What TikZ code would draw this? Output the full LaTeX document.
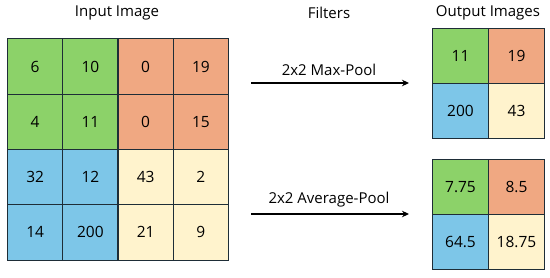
\documentclass[tikz,border=0pt]{standalone}
\usepackage{fontspec}
\setmainfont{Open Sans}
\usetikzlibrary{arrows.meta}
\definecolor{cgreen}{RGB}{140,210,105}
\definecolor{corange}{RGB}{240,168,130}
\definecolor{cblue}{RGB}{125,198,232}
\definecolor{cyellow}{RGB}{255,243,205}
\definecolor{cedge}{RGB}{30,45,55}
\begin{document}
\begin{tikzpicture}[x=1pt,y=-1pt,
  cell/.style={draw=cedge,line width=1.1pt,minimum width=55.25pt,minimum height=55.5pt,inner sep=0pt,font=\fontsize{15.5}{17}\selectfont,anchor=center},
  ocell/.style={draw=cedge,line width=1.1pt,minimum width=56pt,minimum height=55pt,inner sep=0pt,font=\fontsize{15.5}{17}\selectfont,anchor=center},
  title/.style={font=\fontsize{15}{17}\selectfont,anchor=center},
  lbl/.style={font=\fontsize{15}{17}\selectfont,anchor=center},
  arr/.style={line width=2pt,-{Stealth[length=7pt,width=6.5pt]}}]
\useasboundingbox (0,0) rectangle (550,277);
\node[title] (t1) at (117,13) {Input Image};
\node[title] (t2) at (329,13) {Filters};
\node[title] (t3) at (488,13) {Output Images};
% input grid
\def\cw{55.25}
\foreach \r/\c/\v/\col in {
 0/0/6/cgreen,0/1/10/cgreen,0/2/0/corange,0/3/19/corange,
 1/0/4/cgreen,1/1/11/cgreen,1/2/0/corange,1/3/15/corange,
 2/0/32/cblue,2/1/12/cblue,2/2/43/cyellow,2/3/2/cyellow,
 3/0/14/cblue,3/1/200/cblue,3/2/21/cyellow,3/3/9/cyellow}{
  \node[cell,fill=\col] (i\r\c) at ({7.5+\cw*(\c+0.5)},{39+55.25*(\r+0.5)}) {\v};
}
% output max
\foreach \r/\c/\v/\col in {0/0/11/cgreen,0/1/19/corange,1/0/200/cblue,1/1/43/cyellow}{
  \node[ocell,fill=\col] (m\r\c) at ({432.5+56*(\c+0.5)},{28.5+55*(\r+0.5)}) {\v};
}
\foreach \r/\c/\v/\col in {0/0/7.75/cgreen,0/1/8.5/corange,1/0/64.5/cblue,1/1/18.75/cyellow}{
  \node[ocell,fill=\col] (a\r\c) at ({432.5+56*(\c+0.5)},{160+54.5*(\r+0.5)}) {\v};
}
\coordinate (s1) at (251,83);
\coordinate (e1) at (409,83);
\coordinate (s2) at (251,214);
\coordinate (e2) at (409,214);
\draw[arr] (s1) -- (e1);
\draw[arr] (s2) -- (e2);
\node[lbl] (l1) at (329,70) {2x2 Max-Pool};
\node[lbl] (l2) at (329,199.5) {2x2 Average-Pool};
\end{tikzpicture}
\end{document}
